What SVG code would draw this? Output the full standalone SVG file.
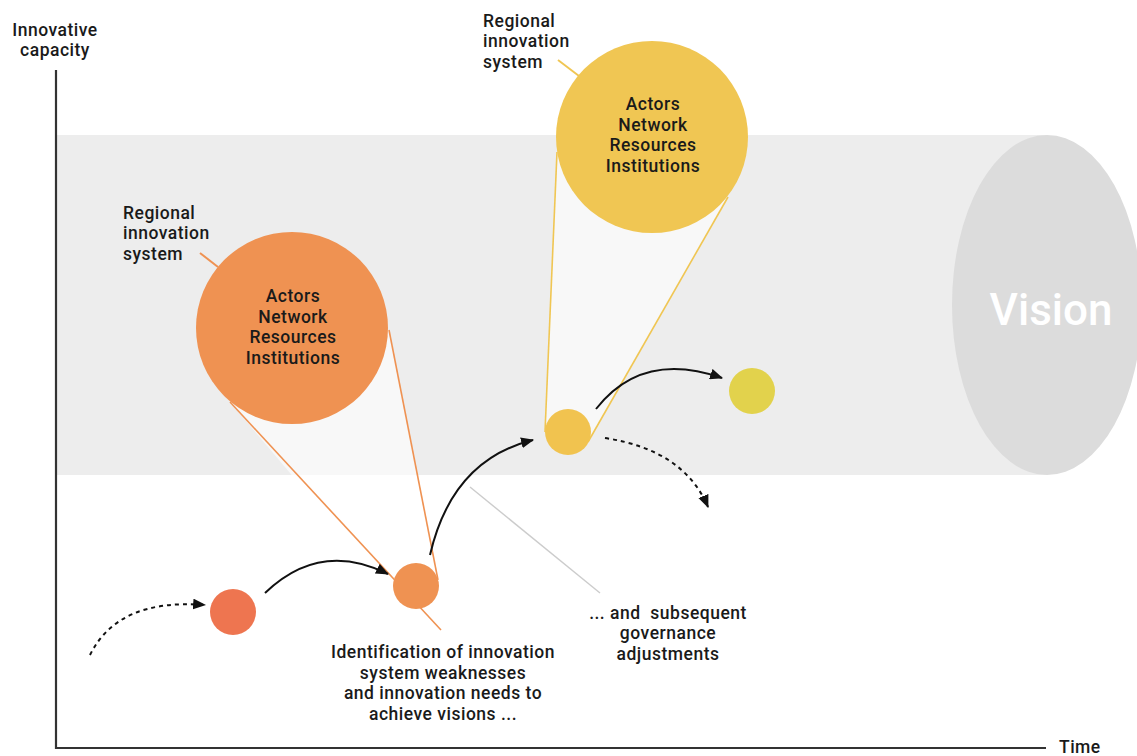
<svg xmlns="http://www.w3.org/2000/svg" width="1137" height="756" viewBox="0 0 1137 756">
<defs>
<style>
.t{font-family:Roboto,"DejaVu Sans","Liberation Sans",sans-serif;font-weight:500;font-size:17.5px;letter-spacing:0.5px;fill:#1a1a1a}
.c{text-anchor:middle}
.arr{fill:none;stroke:#111;stroke-width:2}
.dash{stroke-dasharray:4 4}
.axis{stroke:#333;stroke-width:2.2;fill:none}
</style>
<marker id="ah" viewBox="0 0 12 10" refX="11" refY="5" markerWidth="13" markerHeight="11" markerUnits="userSpaceOnUse" orient="auto">
<path d="M0,0 L12,5 L0,10 Z" fill="#111"/>
</marker>
</defs>
<rect width="1137" height="756" fill="#fff"/>
<g id="band">
<rect x="56" y="135" width="992" height="340" fill="#ededed"/>
<ellipse cx="1047" cy="305" rx="95" ry="170" fill="#dcdcdc"/>
<text x="1051" y="325" font-family="Roboto,DejaVu Sans,sans-serif" font-weight="500" font-size="44" fill="#fff" text-anchor="middle">Vision</text>
</g>
<g id="axes">
<line class="axis" x1="56" y1="70" x2="56" y2="749"/>
<line class="axis" x1="55" y1="748" x2="1046" y2="748"/>
<text class="t c" x="55" y="35.5">Innovative<tspan x="55" dy="20.5">capacity</tspan></text>
<text class="t" x="1059" y="753">Time</text>
</g>
<g id="cones">
<polygon points="230,402 389,330 438,580 400,603" fill="#fff" fill-opacity="0.6"/>
<line x1="230" y1="402" x2="441" y2="630" stroke="#ef9252" stroke-width="1.6"/>
<line x1="389" y1="330" x2="438" y2="580" stroke="#ef9252" stroke-width="1.6"/>
<polygon points="557,152 728,197 589,440 545,432" fill="#fff" fill-opacity="0.6"/>
<line x1="557" y1="152" x2="545" y2="432" stroke="#f0c653" stroke-width="1.6"/>
<line x1="728" y1="197" x2="588" y2="442" stroke="#f0c653" stroke-width="1.6"/>
<line x1="470" y1="487" x2="600" y2="593" stroke="#cccccc" stroke-width="1.4"/>
</g>
<g id="ris1">
<line x1="200" y1="253" x2="218" y2="267" stroke="#ef9252" stroke-width="2"/>
<text class="t" x="123" y="218.5">Regional<tspan x="123" dy="20.5">innovation</tspan><tspan x="123" dy="20.5">system</tspan></text>
<circle cx="292" cy="328" r="96" fill="#ef9252"/>
<text class="t c" x="293" y="302">Actors<tspan x="293" dy="20.5">Network</tspan><tspan x="293" dy="20.5">Resources</tspan><tspan x="293" dy="20.5">Institutions</tspan></text>
</g>
<g id="ris2">
<line x1="558" y1="60" x2="579" y2="76" stroke="#f0c653" stroke-width="2"/>
<text class="t" x="483" y="26.5">Regional<tspan x="483" dy="20.5">innovation</tspan><tspan x="483" dy="20.5">system</tspan></text>
<circle cx="652" cy="137" r="96" fill="#f0c653"/>
<text class="t c" x="653" y="110">Actors<tspan x="653" dy="20.5">Network</tspan><tspan x="653" dy="20.5">Resources</tspan><tspan x="653" dy="20.5">Institutions</tspan></text>
</g>
<g id="dot1"><circle cx="233" cy="612" r="23" fill="#ee7550"/></g>
<g id="dot2"><circle cx="416" cy="586" r="23" fill="#ef9252"/></g>
<g id="dot3"><circle cx="568" cy="432" r="23" fill="#f1c34f"/></g>
<g id="dot4"><circle cx="752" cy="391" r="23" fill="#e2d24c"/></g>
<g id="connectors">
<path class="arr dash" d="M90,655 Q118,598 205,605" marker-end="url(#ah)"/>
<path class="arr" d="M265,593 Q320,540 388,574" marker-end="url(#ah)"/>
<path class="arr" d="M430,555 Q452,460 533,440" marker-end="url(#ah)"/>
<path class="arr" d="M596,409 Q642,350 722,378" marker-end="url(#ah)"/>
<path class="arr dash" d="M605,438 Q684,450 708,507" marker-end="url(#ah)"/>
</g>
<g id="notes">
<text class="t c" x="443" y="658">Identification of innovation<tspan x="443" dy="20.5">system weaknesses</tspan><tspan x="443" dy="20.5">and innovation needs to</tspan><tspan x="443" dy="20.5">achieve visions ...</tspan></text>
<text class="t c" x="668" y="618.5" xml:space="preserve">... and  subsequent<tspan x="668" dy="20.5">governance</tspan><tspan x="668" dy="20.5">adjustments</tspan></text>
</g>
</svg>
